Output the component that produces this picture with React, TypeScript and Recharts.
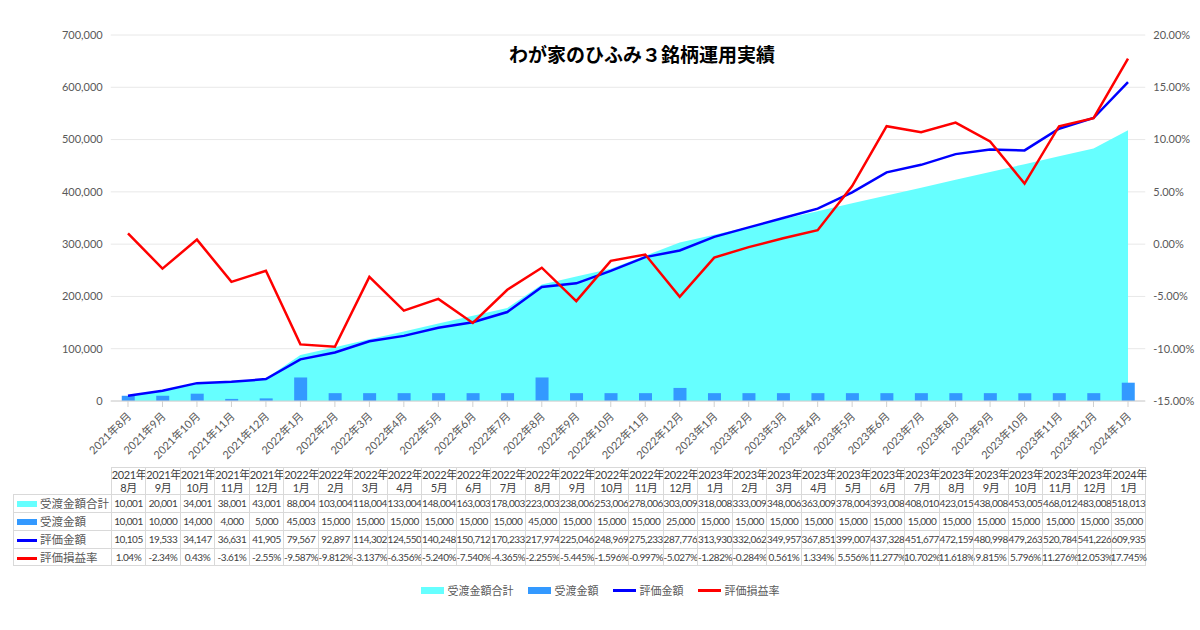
import React from 'react';
import { ComposedChart, Area, Bar, Line, XAxis, YAxis, CartesianGrid } from 'recharts';

const months = [
  '2021年8月', '2021年9月', '2021年10月', '2021年11月', '2021年12月',
  '2022年1月', '2022年2月', '2022年3月', '2022年4月', '2022年5月', '2022年6月',
  '2022年7月', '2022年8月', '2022年9月', '2022年10月', '2022年11月', '2022年12月',
  '2023年1月', '2023年2月', '2023年3月', '2023年4月', '2023年5月', '2023年6月',
  '2023年7月', '2023年8月', '2023年9月', '2023年10月', '2023年11月', '2023年12月',
  '2024年1月',
];

const totalPaid = [
  10001, 20001, 34001, 38001, 43001, 88004, 103004, 118004, 133004, 148004,
  163003, 178003, 223003, 238006, 253006, 278006, 303009, 318008, 333009, 348006,
  363009, 378004, 393008, 408010, 423015, 438008, 453005, 468012, 483008, 518013,
];

const paid = [
  10001, 10000, 14000, 4000, 5000, 45003, 15000, 15000, 15000, 15000,
  15000, 15000, 45000, 15000, 15000, 15000, 25000, 15000, 15000, 15000,
  15000, 15000, 15000, 15000, 15000, 15000, 15000, 15000, 15000, 35000,
];

const valuation = [
  10105, 19533, 34147, 36631, 41905, 79567, 92897, 114302, 124550, 140248,
  150712, 170233, 217974, 225046, 248969, 275233, 287776, 313930, 332062, 349957,
  367851, 399007, 437328, 451677, 472159, 480998, 479263, 520784, 541226, 609935,
];

const rateLabels = [
  '1.04%', '-2.34%', '0.43%', '-3.61%', '-2.55%', '-9.587%', '-9.812%', '-3.137%',
  '-6.356%', '-5.240%', '-7.540%', '-4.365%', '-2.255%', '-5.445%', '-1.596%',
  '-0.997%', '-5.027%', '-1.282%', '-0.284%', '0.561%', '1.334%', '5.556%',
  '11.277%', '10.702%', '11.618%', '9.815%', '5.796%', '11.276%', '12.053%', '17.745%',
];

const leftTicks = [0, 100000, 200000, 300000, 400000, 500000, 600000, 700000];
const rightTicks = [-0.15, -0.1, -0.05, 0, 0.05, 0.1, 0.15, 0.2];

const data = months.map((m, i) => ({
  month: m,
  total: totalPaid[i],
  paid: paid[i],
  value: valuation[i],
  rate: parseFloat(rateLabels[i]) / 100,
}));

const FONT = "Lato, 'Noto Sans CJK JP', sans-serif";
const C_AREA = '#66FFFF';
const C_BAR = '#3399FF';
const C_BLUE = '#0000FF';
const C_RED = '#FF0000';

const PLOT_LEFT = 110.75;
const COL_W = 34.5;

const fmt = (n: number) => n.toLocaleString('en-US');

const MonthTick = (props: any) => {
  const { x, y, payload } = props;
  return (
    <text
      x={x + 4}
      y={y + 8}
      textAnchor="end"
      fontSize={11}
      fill="#595959"
      fontFamily={FONT}
      transform={`rotate(-45, ${x + 4}, ${y + 8})`}
    >
      {payload.value}
    </text>
  );
};

const rows = [
  { name: '受渡金額合計', color: C_AREA, kind: 'box', cells: totalPaid.map(fmt) },
  { name: '受渡金額', color: C_BAR, kind: 'box', cells: paid.map(fmt) },
  { name: '評価金額', color: C_BLUE, kind: 'line', cells: valuation.map(fmt) },
  { name: '評価損益率', color: C_RED, kind: 'line', cells: rateLabels },
];

const Swatch = ({ color, kind }: { color: string; kind: string }) => (
  <span
    style={{
      display: 'inline-block',
      width: 20,
      height: kind === 'box' ? 6 : 3,
      background: color,
      marginRight: 3,
      verticalAlign: 'middle',
    }}
  />
);

const DataTable = () => {
  const border = '1px solid #D9D9D9';
  const top = 467;
  const headH = 27;
  const rowH = 18;
  return (
    <div style={{ position: 'absolute', left: 0, top: 0, fontFamily: FONT, color: '#404040' }}>
      {months.map((m, i) => {
        const [y, mo] = m.split('年');
        return (
          <div
            key={m}
            style={{
              position: 'absolute',
              left: PLOT_LEFT + i * COL_W,
              top,
              width: COL_W,
              height: headH,
              borderLeft: border,
              borderTop: border,
              borderRight: i === months.length - 1 ? border : undefined,
              boxSizing: 'border-box',
              fontSize: 11,
              letterSpacing: -0.4,
              lineHeight: '12.5px',
              textAlign: 'center',
              whiteSpace: 'nowrap',
              paddingTop: 1,
            }}
          >
            <div>{y}年</div>
            <div>{mo}</div>
          </div>
        );
      })}
      {rows.map((r, ri) => {
        const rt = top + headH + ri * rowH;
        return (
          <React.Fragment key={r.name}>
            <div
              style={{
                position: 'absolute',
                left: 13,
                top: rt,
                width: PLOT_LEFT - 13,
                height: rowH,
                borderLeft: border,
                borderTop: border,
                borderBottom: ri === rows.length - 1 ? border : undefined,
                boxSizing: 'border-box',
                fontSize: 11.5,
                lineHeight: '16px',
                whiteSpace: 'nowrap',
                paddingLeft: 3,
                color: '#595959',
              }}
            >
              <Swatch color={r.color} kind={r.kind} />
              <span style={{ verticalAlign: 'middle' }}>{r.name}</span>
            </div>
            {r.cells.map((c, i) => (
              <div
                key={i}
                style={{
                  position: 'absolute',
                  left: PLOT_LEFT + i * COL_W,
                  top: rt,
                  width: COL_W,
                  height: rowH,
                  borderLeft: border,
                  borderTop: border,
                  borderRight: i === months.length - 1 ? border : undefined,
                  borderBottom: ri === rows.length - 1 ? border : undefined,
                  boxSizing: 'border-box',
                  fontSize: 10,
                  letterSpacing: -0.45,
                  lineHeight: '16px',
                  textAlign: 'center',
                  whiteSpace: 'nowrap',
                  display: 'flex',
                  justifyContent: 'center',
                }}
              >
                {c}
              </div>
            ))}
          </React.Fragment>
        );
      })}
    </div>
  );
};

const BottomLegend = () => (
  <div
    style={{
      position: 'absolute',
      left: 0,
      top: 582,
      width: 1200,
      display: 'flex',
      justifyContent: 'center',
      gap: 14,
      fontFamily: FONT,
      fontSize: 11,
      color: '#595959',
    }}
  >
    {rows.map((r) => (
      <span key={r.name} style={{ display: 'inline-flex', alignItems: 'center' }}>
        <span
          style={{
            display: 'inline-block',
            width: 23,
            height: r.kind === 'box' ? 7 : 3,
            background: r.color,
            marginRight: 4,
          }}
        />
        {r.name}
      </span>
    ))}
  </div>
);

export default function App() {
  return (
    <div
      style={{
        position: 'absolute',
        left: 0,
        top: 0,
        width: 1200,
        height: 630,
        background: '#FFFFFF',
        overflow: 'hidden',
        fontFamily: FONT,
      }}
    >
      <div
        style={{
          position: 'absolute',
          left: 0,
          top: 40,
          width: 1284,
          textAlign: 'center',
          fontSize: 19,
          fontWeight: 'bold',
          color: '#000000',
          fontFamily: "'Noto Sans CJK JP', sans-serif",
        }}
      >
        わが家のひふみ３銘柄運用実績
      </div>
      <ComposedChart
        width={1200}
        height={460}
        data={data}
        margin={{ top: 35, right: 0, bottom: 0, left: 10 }}
        style={{ position: 'absolute', left: 0, top: 0 }}
      >
        <CartesianGrid vertical={false} stroke="#E8E8E8" yAxisId="left" />
        <XAxis
          dataKey="month"
          interval={0}
          height={59}
          tick={<MonthTick />}
          tickLine={{ stroke: '#D0D0D0' }}
          axisLine={{ stroke: '#D0D0D0' }}
        />
        <YAxis
          yAxisId="left"
          width={100.75}
          domain={[0, 700000]}
          ticks={leftTicks}
          tickFormatter={fmt}
          axisLine={false}
          tickLine={false}
          tick={{ fontSize: 11, fill: '#595959', fontFamily: FONT }}
        />
        <YAxis
          yAxisId="right"
          orientation="right"
          width={54.75}
          domain={[-0.15, 0.2]}
          ticks={rightTicks}
          tickFormatter={(v: number) => `${(v * 100).toFixed(2)}%`}
          axisLine={false}
          tickLine={false}
          tick={{ fontSize: 11, fill: '#595959', fontFamily: FONT, textAnchor: 'start' }}
        />
        <Area
          yAxisId="left"
          dataKey="total"
          type="linear"
          fill={C_AREA}
          fillOpacity={1}
          stroke="none"
          isAnimationActive={false}
        />
        <Bar yAxisId="left" dataKey="paid" fill={C_BAR} barSize={13} isAnimationActive={false} />
        <Line
          yAxisId="left"
          dataKey="value"
          type="linear"
          stroke={C_BLUE}
          strokeWidth={2.5}
          dot={false}
          isAnimationActive={false}
        />
        <Line
          yAxisId="right"
          dataKey="rate"
          type="linear"
          stroke={C_RED}
          strokeWidth={2.5}
          dot={false}
          isAnimationActive={false}
        />
      </ComposedChart>
      <DataTable />
      <BottomLegend />
    </div>
  );
}
